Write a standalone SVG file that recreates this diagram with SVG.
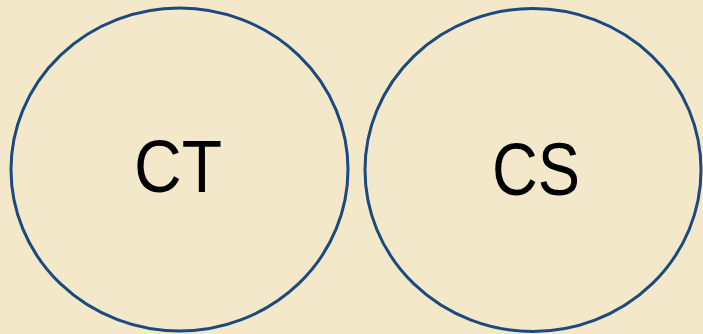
<svg xmlns="http://www.w3.org/2000/svg" width="703" height="334" viewBox="0 0 703 334">
<style>
.ring{fill:none;stroke:#1d4a7e;stroke-width:3}
.lbl{font-family:"Liberation Sans",Arial,sans-serif;font-size:74px;fill:#000;text-anchor:middle}
</style>
<rect width="703" height="334" fill="#f3e8c9"/>
<g id="node-ct">
<ellipse class="ring" cx="179.5" cy="169.5" rx="168.5" ry="161.5"/>
<text class="lbl" x="178" y="192" textLength="88" lengthAdjust="spacingAndGlyphs">CT</text>
</g>
<g id="node-cs">
<ellipse class="ring" cx="533" cy="170" rx="168" ry="161.5"/>
<text class="lbl" x="536" y="195" textLength="88" lengthAdjust="spacingAndGlyphs">CS</text>
</g>
<g id="connectors"/>
</svg>
